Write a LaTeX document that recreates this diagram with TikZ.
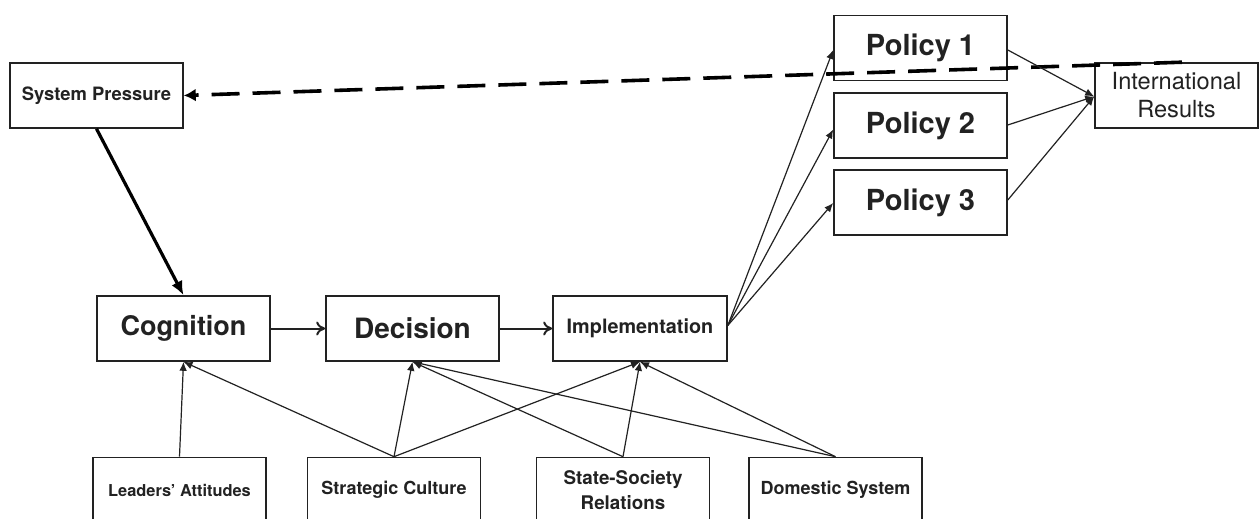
\documentclass[tikz,border=0pt]{standalone}
\usepackage{fontspec}
\setmainfont{TeX Gyre Heros}
\usetikzlibrary{arrows.meta,calc}
\definecolor{ink}{HTML}{222222}
\begin{document}
\begin{tikzpicture}[x=0.5pt,y=-0.5pt,
  box/.style={draw=ink, line width=0.8pt, text=ink, minimum width=86.5pt, minimum height=32.5pt, inner sep=0pt, align=center, font=\bfseries},
  thin/.style={draw=ink, line width=0.6pt, -{Latex[length=4.5pt,width=3.8pt]}},
  flow/.style={draw=ink, line width=1pt, -{To[length=4.5pt,width=7pt]}},
  thick/.style={draw=black, line width=1.6pt, -{Latex[length=7pt,width=6pt]}},
  dashedarrow/.style={draw=black, line width=1.8pt, dash pattern=on 14pt off 6.5pt, -{Latex[length=6pt,width=6.5pt]}}]
\clip (0,0) rectangle (1260,519);
\fill[white] (0,0) rectangle (1260,519);
\node[box, font=\bfseries\fontsize{9.2}{11}\selectfont] (sp) at (96.5,95.5) {System Pressure};
\node[box, font=\bfseries\fontsize{14.5}{17}\selectfont] (p1) at (920.5,48) {Policy 1};
\node[box, font=\bfseries\fontsize{14.5}{17}\selectfont] (p2) at (920.5,125.5) {Policy 2};
\node[box, font=\bfseries\fontsize{14.5}{17}\selectfont] (p3) at (920.5,202.5) {Policy 3};
\node[box, minimum width=81.5pt, font=\fontsize{11.8}{14}\selectfont] (ir) at (1176.5,95.5) {International\\Results};
\node[box, font=\bfseries\fontsize{13.5}{16}\selectfont] (cog) at (183.5,328.5) {Cognition};
\node[box, font=\bfseries\fontsize{14}{16}\selectfont] (dec) at (412.5,328.5) {Decision};
\node[box, minimum width=87pt, font=\bfseries\fontsize{9.9}{12}\selectfont] (imp) at (640,328.5) {Implementation};
\node[box, font=\bfseries\fontsize{8.2}{10}\selectfont] (la) at (179.5,490) {Leaders' Attitudes};
\node[box, font=\bfseries\fontsize{9}{11}\selectfont] (sc) at (394,490) {Strategic Culture};
\node[box, font=\bfseries\fontsize{9.4}{12.5}\selectfont] (ss) at (623,490) {State-Society\\Relations};
\node[box, font=\bfseries\fontsize{9}{11}\selectfont] (ds) at (835.5,490) {Domestic System};
% coordinates
\coordinate (impout) at ($(imp.east)+(0,-3)$);
\coordinate (p1in) at ($(p1.west)+(0,2)$);
\coordinate (p2in) at ($(p2.west)+(0,4)$);
\coordinate (p3in) at ($(p3.west)+(0,0.5)$);
\coordinate (p1out) at ($(p1.east)+(0,2)$);
\coordinate (p2out) at ($(p2.east)+(0,-0.5)$);
\coordinate (p3out) at ($(p3.east)+(0,-2.5)$);
\coordinate (irin) at ($(ir.west)+(0,1)$);
\coordinate (dstart) at ($(ir.north)+(5.5,0)$);
% main flow
\draw[thick] (sp.south) -- (cog.north);
\draw[flow] (cog) -- (dec);
\draw[flow] (dec) -- (imp);
\draw[dashedarrow] (dstart) -- (sp.east);
% policies
\draw[thin] (impout) -- (p1in);
\draw[thin] (impout) -- (p2in);
\draw[thin] (impout) -- (p3in);
\draw[thin] (p1out) -- (irin);
\draw[thin] (p2out) -- (irin);
\draw[thin] (p3out) -- (irin);
% bottom influences
\draw[thin] (la.north) -- (cog.south);
\draw[thin] (sc.north) -- (cog.south);
\draw[thin] (sc.north) -- (dec.south);
\draw[thin] (sc.north) -- (imp.south);
\draw[thin] (ss.north) -- (dec.south);
\draw[thin] (ss.north) -- (imp.south);
\draw[thin] (ds.north) -- (dec.south);
\draw[thin] (ds.north) -- (imp.south);
\end{tikzpicture}
\end{document}
